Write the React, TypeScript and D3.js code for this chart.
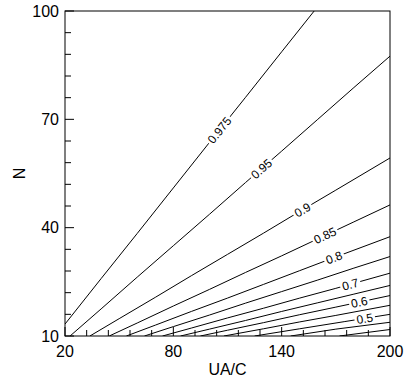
import React from 'react';
import * as d3 from 'd3';

const W = 407;
const H = 379;
const PL = 65, PT = 11, PR = 390, PB = 336;

const xDomain: [number, number] = [20, 200];
const yDomain: [number, number] = [10, 100];
const xMajorTicks = [20, 80, 140, 200];
const yMajorTicks = [10, 40, 70, 100];
const xMinorTicks = [32, 44, 56, 68, 92, 104, 116, 128, 152, 164, 176, 188];
const yMinorTicks = [16, 22, 28, 34, 46, 52, 58, 64, 76, 82, 88, 94];

// contour levels: [UA/C, N] polylines
const c975: [number, number][] = [[20, 13.3], [40, 25.9], [60, 38.4], [80, 51.0], [100, 63.6], [120, 76.1], [140, 88.7], [158, 100]];
const c95: [number, number][] = [[22.8, 10], [40, 17.5], [60, 26.3], [80, 35.0], [100, 43.7], [120, 52.5], [140, 61.2], [160, 70.0], [180, 78.8], [200, 87.5]];
const c90: [number, number][] = [[33.8, 10], [50, 14.8], [70, 20.7], [90, 26.7], [110, 32.6], [130, 38.5], [150, 44.5], [170, 50.4], [200, 59.3]];
const c85: [number, number][] = [[44.5, 10], [60, 13.6], [80, 18.3], [100, 22.9], [120, 27.6], [140, 32.2], [160, 36.9], [180, 41.6], [200, 46.3]];
const c80: [number, number][] = [[54, 10], [70, 13], [90, 16.8], [110, 20.5], [130, 24.3], [150, 28.1], [170, 31.9], [200, 37.5]];
const c75: [number, number][] = [[64, 10], [80, 12.6], [100, 15.8], [120, 19.1], [140, 22.3], [160, 25.5], [180, 28.8], [200, 32]];
const c70: [number, number][] = [[74, 10], [90, 12.2], [110, 15], [130, 17.7], [150, 20.5], [170, 23.2], [200, 27.4]];
const c65: [number, number][] = [[84, 10], [100, 11.9], [120, 14.3], [140, 16.8], [160, 19.2], [180, 21.6], [200, 24]];
const c60: [number, number][] = [[95, 10], [110, 11.6], [130, 13.7], [150, 15.9], [170, 18], [200, 21.2]];
const c55: [number, number][] = [[108, 10], [130, 12], [150, 13.9], [170, 15.7], [200, 18.5]];
const c50: [number, number][] = [[125, 10], [150, 12], [175, 14], [200, 16]];
const c45: [number, number][] = [[145, 10], [170, 11.9], [200, 13.8]];
const c40: [number, number][] = [[172, 10], [200, 11.8]];

const contours = [c975, c95, c90, c85, c80, c75, c70, c65, c60, c55, c50, c45, c40];

const labelTexts = ['0.975', '0.95', '0.9', '0.85', '0.8', '0.7', '0.6', '0.5'];
const labelLines = [c975, c95, c90, c85, c80, c70, c60, c50];
const labelAt = [105.5, 128.8, 151.5, 164, 169, 178, 183, 186];

const FONT = '"Liberation Sans", Arial, sans-serif';

function textWidth(s: string, size: number) {
  let w = 0;
  for (const ch of s) w += ch === '.' ? 0.278 : 0.556;
  return w * size;
}

export default function App() {
  const x = d3.scaleLinear().domain(xDomain).range([PL, PR]);
  const y = d3.scaleLinear().domain(yDomain).range([PB, PT]);
  const line = d3.line<[number, number]>().x(d => x(d[0])).y(d => y(d[1]));

  const labels = labelTexts.map((t, i) => {
    const pts = labelLines[i];
    const u = labelAt[i];
    let k = 0;
    while (k < pts.length - 2 && pts[k + 1][0] < u) k++;
    const a = pts[k], b = pts[k + 1];
    const f = (u - a[0]) / (b[0] - a[0]);
    const n = a[1] + f * (b[1] - a[1]);
    const ang = Math.atan2(y(b[1]) - y(a[1]), x(b[0]) - x(a[0])) * 180 / Math.PI;
    return { t, px: x(u), py: y(n), ang, w: textWidth(t, 12) };
  });

  return (
    <svg width={W} height={H} style={{ position: 'absolute', left: 0, top: 0, background: '#fff' }} fontFamily={FONT}>
      <defs>
        <clipPath id="plot">
          <rect x={PL} y={PT} width={PR - PL} height={PB - PT} />
        </clipPath>
      </defs>
      <rect x={0} y={0} width={W} height={H} fill="#fff" />
      <g clipPath="url(#plot)">
        {contours.map((c, i) => (
          <path key={i} d={line(c) || ''} fill="none" stroke="#000" strokeWidth={1} />
        ))}
        {labels.map((l, i) => (
          <g key={i} transform={`translate(${l.px},${l.py}) rotate(${l.ang})`}>
            <rect x={-l.w / 2 - 2} y={-5} width={l.w + 4} height={10} fill="#fff" />
            <text x={0} y={0} dy="0.36em" textAnchor="middle" fontSize={12} fill="#000">{l.t}</text>
          </g>
        ))}
      </g>
      <rect x={PL} y={PT} width={PR - PL} height={PB - PT} fill="none" stroke="#000" strokeWidth={1} />
      {xMajorTicks.map(t => (
        <g key={'xm' + t}>
          <line x1={x(t)} x2={x(t)} y1={PB} y2={PB - 9} stroke="#000" />
          <text x={x(t)} y={357} textAnchor="middle" fontSize={16}>{t}</text>
        </g>
      ))}
      {xMinorTicks.map(t => (
        <line key={'xn' + t} x1={x(t)} x2={x(t)} y1={PB} y2={PB - 6} stroke="#000" />
      ))}
      {yMajorTicks.map(t => (
        <g key={'ym' + t}>
          <line x1={PL} x2={PL + 9} y1={y(t)} y2={y(t)} stroke="#000" />
          <text x={59} y={y(t)} dy="0.36em" textAnchor="end" fontSize={16}>{t}</text>
        </g>
      ))}
      {yMinorTicks.map(t => (
        <line key={'yn' + t} x1={PL} x2={PL + 6} y1={y(t)} y2={y(t)} stroke="#000" />
      ))}
      <text x={(PL + PR) / 2} y={375} textAnchor="middle" fontSize={16}>UA/C</text>
      <text transform={`translate(25,${(PT + PB) / 2}) rotate(-90)`} textAnchor="middle" fontSize={16}>N</text>
    </svg>
  );
}
